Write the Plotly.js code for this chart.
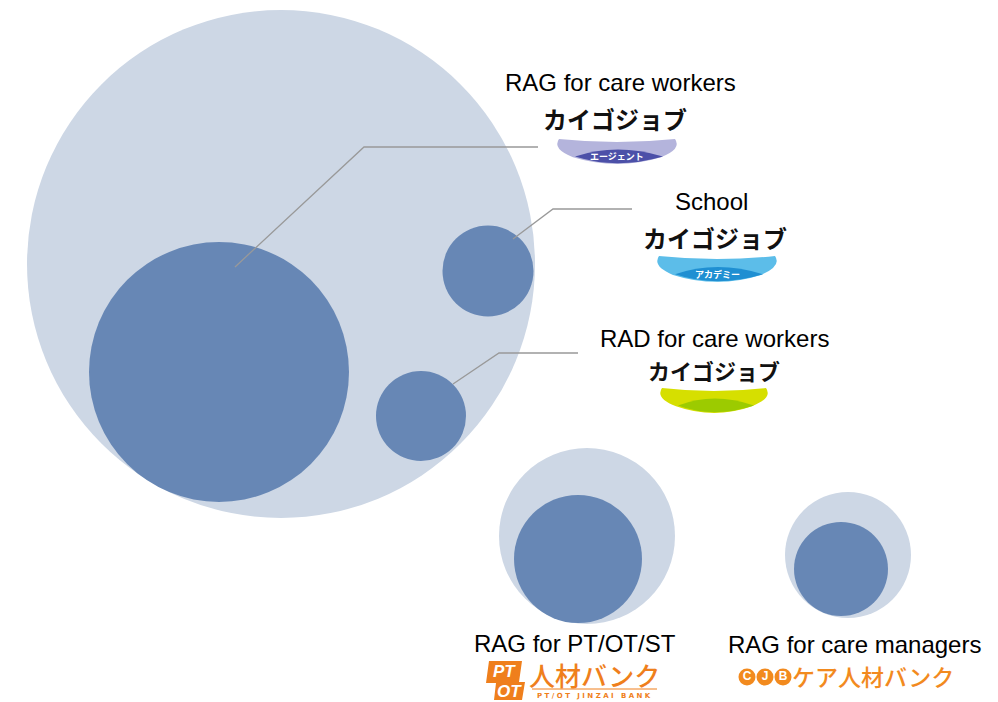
<!DOCTYPE html>
<html>
<head>
<meta charset="utf-8">
<script src="https://cdn.plot.ly/plotly-3.0.1.min.js"></script>
<style>
  html, body { margin: 0; padding: 0; background: #fff; }
  #chart { width: 998px; height: 702px; }
</style>
</head>
<body>
<div id="chart"></div>
<script>
// Segments
var segments = ['RAG for care workers', 'School', 'RAD for care workers', 'RAG for PT/OT/ST', 'RAG for care managers'];

// Outer (market) circles: diameter in px
var outerSize = [508, 176, 126];
var outerX = [281, 587, 848];
var outerY = [264, 536, 555];

// Inner (business) circles: diameter in px
var innerSize = [260, 91, 90, 128, 94];
var innerX = [219, 488, 421, 578, 841];
var innerY = [372, 271, 416, 559, 569];

// Label positions
var labelX = [620, 711, 714, 575, 854];
var labelY = [82, 201, 338, 643, 644];

// Leader lines (start, elbow, end)
var leadX = [[235, 364, 538], [513, 553, 632], [453, 499, 578]];
var leadY = [[267, 147, 147], [239, 209, 209], [384, 353, 353]];

// Kaigo Job logos
var logoName = ['カイゴジョブ', 'カイゴジョブ', 'カイゴジョブ'];
var logoSub = ['エージェント', 'アカデミー', ''];
var logoTextX = [615, 715, 714];
var logoTextY = [118, 237, 370];
var logoTextSize = [24, 24, 22];
var logoCx = [617, 717, 714];
var logoTop = [137, 254, 386];
var logoW = [116, 116, 104];
var logoH = [28, 29, 28];
var logoLight = ['#b4b4dc', '#5cbde9', '#d6df00'];
var logoDark = ['#4c50a8', '#1f8fd2', '#9ccb00'];

var lightBlue = '#cdd7e5';
var darkBlue = '#6787b5';
var orange = '#ef7f1c';

function crescent(cx, top, w, h) {
  var x0 = cx - w / 2, x1 = cx + w / 2;
  return 'M' + x0 + ',' + (top + 2) +
    ' Q' + cx + ',' + (top + 8) + ' ' + x1 + ',' + (top + 2) +
    ' Q' + (x1 + 7) + ',' + (top + 12) + ' ' + (x1 - 14) + ',' + (top + h * 0.72) +
    ' Q' + cx + ',' + (top + h * 1.2) + ' ' + (x0 + 14) + ',' + (top + h * 0.72) +
    ' Q' + (x0 - 7) + ',' + (top + 12) + ' ' + x0 + ',' + (top + 2) + ' Z';
}
function lens(cx, top, w, h) {
  var x0 = cx - w / 2 + 16, x1 = cx + w / 2 - 12;
  return 'M' + x0 + ',' + (top + h * 0.7) +
    ' Q' + cx + ',' + (top + h * 0.2) + ' ' + x1 + ',' + (top + h * 0.7) +
    ' Q' + cx + ',' + (top + h * 1.18) + ' ' + x0 + ',' + (top + h * 0.7) + ' Z';
}

var data = [];

data.push({
  x: outerX, y: outerY, mode: 'markers', type: 'scatter',
  marker: {size: outerSize, color: lightBlue, opacity: 1, line: {width: 0}},
  hoverinfo: 'skip', showlegend: false
});
data.push({
  x: innerX, y: innerY, mode: 'markers', type: 'scatter',
  marker: {size: innerSize, color: darkBlue, opacity: 1, line: {width: 0}},
  text: segments, hoverinfo: 'text', showlegend: false
});

var lx = [], ly = [];
leadX.forEach(function (xs, i) {
  lx = lx.concat(xs, [null]);
  ly = ly.concat(leadY[i], [null]);
});
data.push({
  x: lx, y: ly, mode: 'lines', type: 'scatter',
  line: {color: '#999999', width: 1.3},
  hoverinfo: 'skip', showlegend: false
});

// CJB circles
data.push({
  x: [747, 765, 783], y: [677, 677, 677], mode: 'markers+text', type: 'scatter',
  text: ['<b>C</b>', '<b>J</b>', '<b>B</b>'], textposition: 'middle center',
  textfont: {family: 'Liberation Sans, Arial', size: 12, color: '#ffffff'},
  marker: {size: 17, color: '#f28a1e', opacity: 1, line: {width: 0}},
  hoverinfo: 'skip', showlegend: false
});

var shapes = [];
var annotations = [];

segments.forEach(function (s, i) {
  annotations.push({
    x: labelX[i], y: labelY[i], xref: 'x', yref: 'y', text: s, showarrow: false,
    xanchor: 'center', yanchor: 'middle',
    font: {family: 'Liberation Sans, Arial, sans-serif', size: 24, color: '#000000'}
  });
});

logoName.forEach(function (n, i) {
  shapes.push({type: 'path', xref: 'x', yref: 'y', path: crescent(logoCx[i], logoTop[i], logoW[i], logoH[i]),
    fillcolor: logoLight[i], line: {width: 0}, layer: 'above'});
  shapes.push({type: 'path', xref: 'x', yref: 'y', path: lens(logoCx[i], logoTop[i], logoW[i], logoH[i]),
    fillcolor: logoDark[i], line: {width: 0}, layer: 'above'});
  annotations.push({
    x: logoTextX[i], y: logoTextY[i], xref: 'x', yref: 'y', text: '<b>' + n + '</b>', showarrow: false,
    xanchor: 'center', yanchor: 'middle',
    font: {family: 'Noto Sans CJK JP', size: logoTextSize[i], color: '#111111'}
  });
  if (logoSub[i]) {
    annotations.push({
      x: logoCx[i], y: logoTop[i] + logoH[i] * 0.7, xref: 'x', yref: 'y', text: '<b>' + logoSub[i] + '</b>',
      showarrow: false, xanchor: 'center', yanchor: 'middle',
      font: {family: 'Noto Sans CJK JP', size: 9, color: '#ffffff'}
    });
  }
});

// PT/OT logo
shapes.push({type: 'path', xref: 'x', yref: 'y',
  path: 'M489,661 L522,661 L519,682 L525,682 L522,700 L494,700 L496,683 L486,683 Z',
  fillcolor: orange, line: {width: 0}});
shapes.push({type: 'line', xref: 'x', yref: 'y', x0: 532, x1: 657, y0: 689, y1: 689,
  line: {color: orange, width: 1}});
annotations.push({x: 504, y: 671, xref: 'x', yref: 'y', text: '<b><i>PT</i></b>', showarrow: false,
  font: {family: 'Liberation Sans, Arial', size: 17, color: '#ffffff'}});
annotations.push({x: 509, y: 691, xref: 'x', yref: 'y', text: '<b><i>OT</i></b>', showarrow: false,
  font: {family: 'Liberation Sans, Arial', size: 17, color: '#ffffff'}});
annotations.push({x: 594, y: 674, xref: 'x', yref: 'y', text: '人材バンク', showarrow: false,
  font: {family: 'Noto Sans CJK JP', size: 26, weight: 500, color: orange}});
annotations.push({x: 594, y: 696, xref: 'x', yref: 'y', text: '<b>P T / O T   J I N Z A I   B A N K</b>', showarrow: false,
  font: {family: 'DejaVu Sans', size: 7, color: orange}});

// CJB logo text
annotations.push({x: 873, y: 676, xref: 'x', yref: 'y', text: 'ケア人材バンク', showarrow: false,
  font: {family: 'Noto Sans CJK JP', size: 23, weight: 500, color: '#f28a1e'}});

var layout = {
  width: 998, height: 702,
  margin: {l: 0, r: 0, t: 0, b: 0},
  paper_bgcolor: '#ffffff', plot_bgcolor: '#ffffff',
  xaxis: {range: [0, 998], visible: false, fixedrange: true},
  yaxis: {range: [702, 0], visible: false, fixedrange: true},
  shapes: shapes,
  annotations: annotations,
  showlegend: false,
  hovermode: 'closest'
};

Plotly.newPlot('chart', data, layout, {displayModeBar: false, staticPlot: true});
</script>
</body>
</html>
